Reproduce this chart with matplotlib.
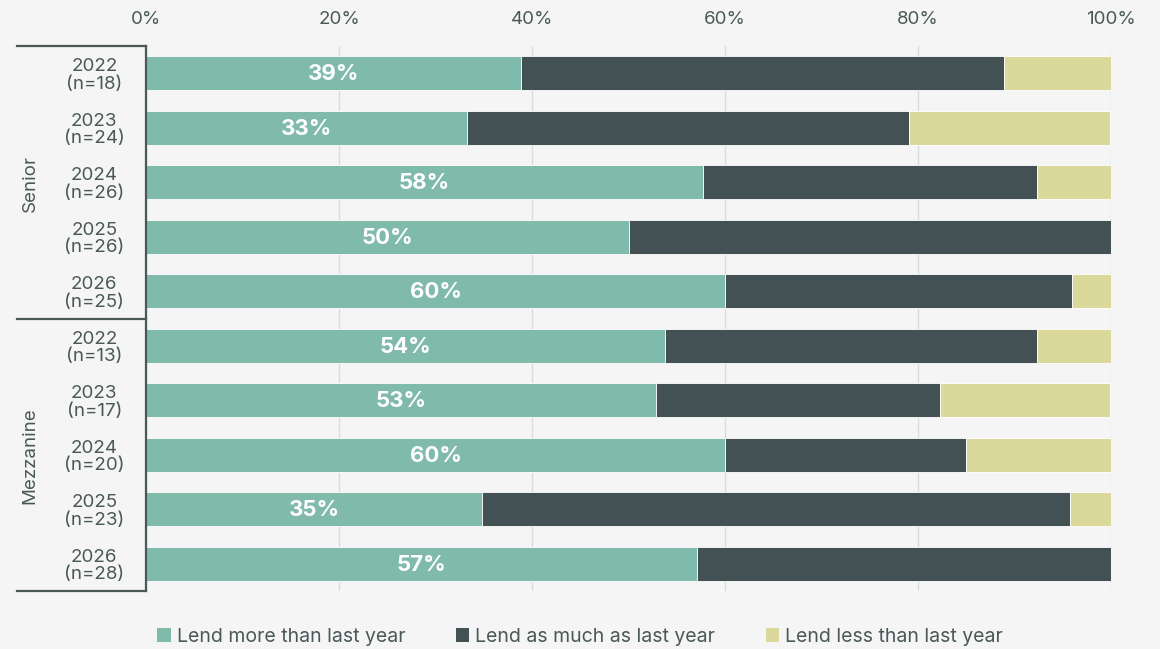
import matplotlib.pyplot as plt
from matplotlib.patches import Patch
from matplotlib.lines import Line2D

plt.rcParams['font.family'] = ['Inter', 'DejaVu Sans']

years = ['2022', '2023', '2024', '2025', '2026']
senior_n = [18, 24, 26, 26, 25]
mezz_n = [13, 17, 20, 23, 28]

# shares in %, senior rows then mezzanine rows
more = [38.9, 33.3, 57.7, 50.0, 60.0, 53.8, 52.9, 60.0, 34.8, 57.1]
same = [50.0, 45.8, 34.6, 50.0, 36.0, 38.5, 29.4, 25.0, 60.9, 42.9]
less = [11.1, 20.8, 7.7, 0.0, 4.0, 7.7, 17.6, 15.0, 4.3, 0.0]

series_names = ['Lend more than last year', 'Lend as much as last year', 'Lend less than last year']
colors = ['#80BAAB', '#435155', '#DAD89B']
text_col = '#4A5858'
bg = '#F5F5F5'

labels = [f'{y}\n(n={n})' for y, n in zip(years, senior_n)] + \
         [f'{y}\n(n={n})' for y, n in zip(years, mezz_n)]
rows = list(range(len(labels)))

fig = plt.figure(figsize=(11.6, 6.49), dpi=100, facecolor=bg)
ax = fig.add_axes([146/1160, 58/649, 965/1160, 545/649])
ax.set_facecolor(bg)

h = 0.63
ax.barh(rows, more, height=h, color=colors[0], edgecolor='white', linewidth=0.6, zorder=2)
ax.barh(rows, same, left=more, height=h, color=colors[1], edgecolor='white', linewidth=0.6, zorder=2)
left2 = [a + b for a, b in zip(more, same)]
ax.barh(rows, less, left=left2, height=h, color=colors[2], edgecolor='white', linewidth=0.6, zorder=2)

for r, v in zip(rows, more):
    ax.text(v / 2, r + 0.02, f'{round(v)}%', ha='center', va='center', color='white',
            fontsize=16, fontweight='bold', zorder=3)

ax.set_xlim(0, 100)
ax.set_ylim(len(labels) - 0.5, -0.5)
ax.set_xticks([0, 20, 40, 60, 80, 100])
ax.set_xticklabels([f'{t}%' for t in [0, 20, 40, 60, 80, 100]])
ax.xaxis.tick_top()
ax.tick_params(axis='x', length=0, pad=13, labelsize=13.5, labelcolor=text_col)
ax.tick_params(axis='y', length=0, pad=8)
ax.set_yticks(rows)
ax.set_yticklabels(labels, fontsize=13.5, color=text_col, linespacing=1.05)
for t in ax.get_yticklabels():
    t.set_ha('center')
    t.set_x(-0.042)
ax.xaxis.grid(True, color='#DADCDC', linewidth=1, zorder=0)
for s in ax.spines.values():
    s.set_visible(False)

# bracket lines on the left
lc = '#4A5858'
x0 = 17 / 1160
x1 = 146 / 1160
for yp in [46, 319, 591]:
    fy = 1 - yp / 649
    fig.add_artist(Line2D([x0, x1], [fy, fy], color=lc, linewidth=1.6, transform=fig.transFigure))
fig.add_artist(Line2D([x1, x1], [1 - 46/649, 1 - 591/649], color=lc, linewidth=1.6,
                      transform=fig.transFigure))

fig.text(30/1160, 1 - 183/649, 'Senior', rotation=90, ha='center', va='center',
         fontsize=13.5, color=text_col)
fig.text(30/1160, 1 - 456/649, 'Mezzanine', rotation=90, ha='center', va='center',
         fontsize=13.5, color=text_col)

handles = [Patch(facecolor=c, edgecolor='none') for c in colors]
fig.legend(handles, series_names, loc='lower center', bbox_to_anchor=(0.5, -0.022), ncol=3,
           frameon=False, fontsize=14, labelcolor=text_col, handlelength=0.7, handleheight=0.7,
           handletextpad=0.3, columnspacing=2.6)

fig.savefig('out.png', dpi=100, facecolor=bg)
